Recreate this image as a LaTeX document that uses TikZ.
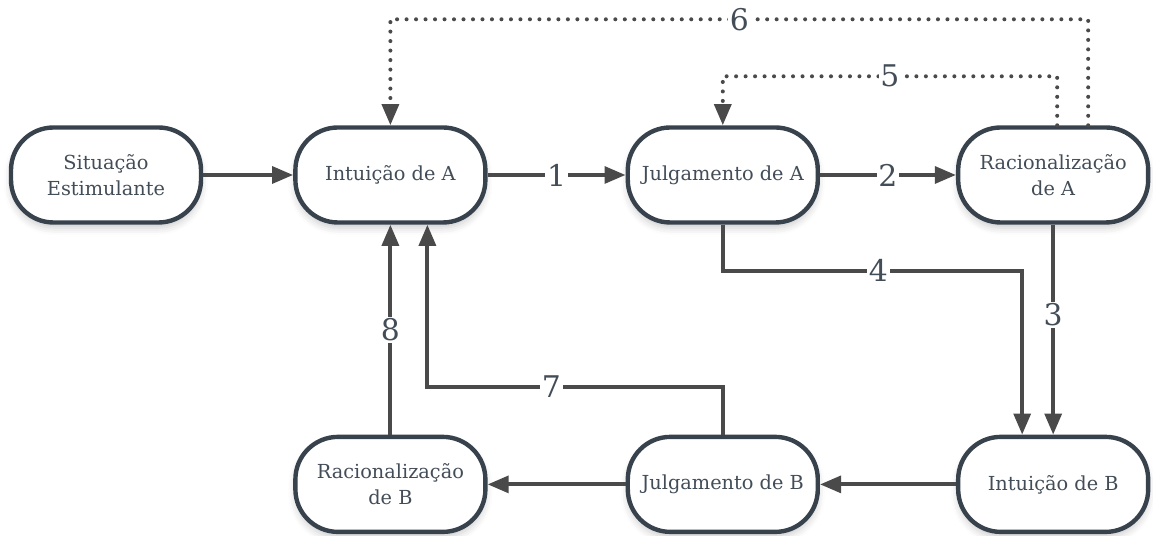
\documentclass[tikz,border=0pt]{standalone}
\usepackage{fontspec}
\setmainfont{DejaVu Serif}
\usetikzlibrary{arrows.meta, positioning, shadows.blur}

\definecolor{borda}{HTML}{37424D}
\definecolor{cinzaseta}{HTML}{4A4A4A}
\definecolor{texto}{HTML}{434D58}

\begin{document}
\begin{tikzpicture}[
        node distance=4.2cm and 2.76cm,
        % Caixas arredondadas das etapas
        etapa/.style={rectangle, draw=borda, line width=2.5pt, rounded corners=0.85cm, fill=white, minimum width=3.8cm, minimum height=1.9cm, align=center, text=texto, font=\fontsize{11}{15}\selectfont, blur shadow={shadow xshift=0pt, shadow yshift=-3pt, shadow blur radius=4pt, shadow opacity=20}},
        seta/.style={-{Triangle[length=12pt, width=9.5pt]}, line width=2.3pt, draw=cinzaseta},
        pontilhada/.style={seta, dash pattern=on 0pt off 5.4pt, line cap=round},
        rotulo/.style={fill=white, inner sep=1pt, text=texto, font=\fontsize{17}{17}\selectfont}
    ]
    \useasboundingbox (0,0) rectangle (23.06,10.72);

    % Linha de cima (A)
    \node (sit) [etapa] at (2.12,7.22) {Situação \\ Estimulante};
    \node (intA) [etapa, right=1.8cm of sit] {Intuição de A};
    \node (julA) [etapa, right=of intA] {Julgamento de A};
    \node (racA) [etapa, right=2.72cm of julA] {Racionalização \\ de A};

    % Linha de baixo (B)
    \node (intB) [etapa, below=of racA] {Intuição de B};
    \node (julB) [etapa, below=of julA] {Julgamento de B};
    \node (racB) [etapa, below=of intA] {Racionalização \\ de B};

    % Setas retas
    \draw [seta] (sit) -- (intA);
    \draw [seta] (intA) -- (julA) node[midway, rotulo] {1};
    \draw [seta] (julA) -- (racA) node[midway, rotulo] {2};
    \draw [seta] (racA) -- (intB) node[pos=0.43, rotulo] {3};
    \draw [seta] (intB) -- (julB);
    \draw [seta] (julB) -- (racB);
    \draw [seta] (racB) -- (intA) node[midway, rotulo] {8};

    % Setas com quebra de 90 graus
    \draw [seta] (julA.south) -- ++(0,-0.92) -| ([xshift=-0.62cm]intB.north) node[pos=0.26, rotulo] {4};
    \draw [seta] (julB.north) -- ++(0,0.96) -| ([xshift=0.74cm]intA.south) node[pos=0.29, rotulo] {7};

    % Retornos pontilhados
    \draw [pontilhada] ([xshift=0.08cm]racA.north) -- ++(0,0.98) -| (julA.north) node[pos=0.25, rotulo] {5};
    \draw [pontilhada] ([xshift=0.7cm]racA.north) -- ++(0,2.12) -| (intA.north) node[pos=0.25, rotulo] {6};

\end{tikzpicture}
\end{document}
